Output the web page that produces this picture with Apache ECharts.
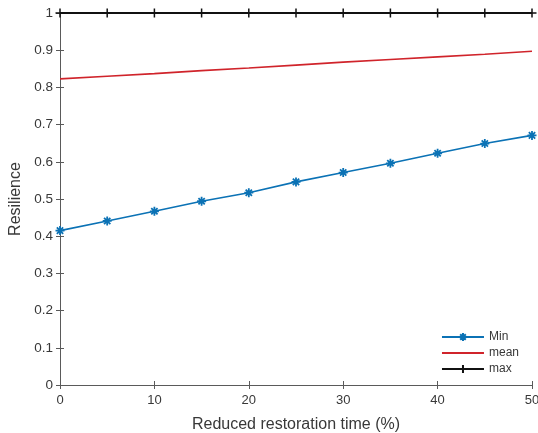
<!DOCTYPE html>
<html>
<head>
<meta charset="utf-8">
<script src="https://cdn.jsdelivr.net/npm/echarts@6/dist/echarts.min.js"></script>
<style>
  html, body { margin: 0; padding: 0; background: #fff; }
  #chart { width: 538px; height: 433px; }
</style>
</head>
<body>
<div id="chart"></div>
<script>
// Reduced restoration time (%) and the resulting resilience statistics
const reductionPct = [0, 5, 10, 15, 20, 25, 30, 35, 40, 45, 50];
const minResilience = [0.415, 0.441, 0.467, 0.494, 0.517, 0.546, 0.571, 0.596, 0.623, 0.649, 0.671];
const meanResilience = [0.823, 0.830, 0.837, 0.845, 0.852, 0.860, 0.868, 0.875, 0.882, 0.889, 0.897];
const maxResilience = [1, 1, 1, 1, 1, 1, 1, 1, 1, 1, 1];
const xTicks = [0, 10, 20, 30, 40, 50];
const yTicks = [0, 0.1, 0.2, 0.3, 0.4, 0.5, 0.6, 0.7, 0.8, 0.9, 1];

const pairs = (ys) => reductionPct.map((x, i) => [x, ys[i]]);

const FONT = '"Liberation Sans", Arial, Helvetica, sans-serif';
const AXIS = '#5a5a5a';
const TEXT = '#383838';

// asterisk (8 spokes) and plus markers, drawn as stroked paths
const ASTERISK = 'path://M0,-10L0,10M-10,0L10,0M-7,-7L7,7M-7,7L7,-7';
const PLUS = 'path://M0,-10L0,10M-10,0L10,0';

const chart = echarts.init(document.getElementById('chart'), null, { renderer: 'canvas' });

const axisCommon = {
  type: 'value',
  axisLine: { show: true, lineStyle: { color: AXIS, width: 1 } },
  axisTick: { show: true, inside: true, length: 4, lineStyle: { color: AXIS } },
  splitLine: { show: false },
};

chart.setOption({
  animation: false,
  backgroundColor: '#ffffff',
  textStyle: { fontFamily: FONT },
  grid: { left: 60, right: 6, top: 13, bottom: 48, containLabel: false, outerBoundsMode: 'none' },
  xAxis: [
    Object.assign({}, axisCommon, {
      min: 0, max: 50, interval: 10,
      name: 'Reduced restoration time (%)',
      nameLocation: 'middle', nameGap: 32,
      nameTextStyle: { fontSize: 16, color: TEXT, fontFamily: FONT },
      axisLabel: {
        color: TEXT, fontSize: 13, fontFamily: FONT, margin: 9,
        formatter: (v) => xTicks.includes(v) ? String(v) : ''
      },
    }),
    Object.assign({}, axisCommon, {
      position: 'top', min: 0, max: 50, interval: 10,
      axisLabel: { show: false },
    }),
  ],
  yAxis: [
    Object.assign({}, axisCommon, {
      min: 0, max: 1, interval: 0.1,
      name: 'Resilience',
      nameLocation: 'middle', nameGap: 32, nameRotate: 90,
      nameTextStyle: { fontSize: 16, color: TEXT, fontFamily: FONT },
      axisLabel: {
        color: TEXT, fontSize: 13.5, fontFamily: FONT, margin: 7,
        formatter: (v) => {
          const t = yTicks.find(k => Math.abs(k - v) < 1e-9);
          return t === undefined ? '' : String(t);
        }
      },
    }),
    Object.assign({}, axisCommon, {
      position: 'right', min: 0, max: 1, interval: 0.1,
      axisLabel: { show: false },
    }),
  ],
  legend: {
    orient: 'vertical',
    right: 14, top: 326,
    itemWidth: 42, itemHeight: 10, itemGap: 4,
    textStyle: { fontSize: 12, color: TEXT, fontFamily: FONT },
    data: ['Min', { name: 'mean', itemStyle: { opacity: 0 } }, 'max'],
  },
  series: [
    {
      name: 'Min', type: 'line',
      data: pairs(minResilience),
      symbol: ASTERISK, symbolSize: 9,
      lineStyle: { color: '#0b72b5', width: 1.6 },
      itemStyle: { color: '#0b72b5', borderColor: '#0b72b5', borderWidth: 1.8 },
      z: 3,
    },
    {
      name: 'mean', type: 'line',
      data: pairs(meanResilience),
      showSymbol: false,
      lineStyle: { color: '#d0242b', width: 1.6 },
      itemStyle: { color: '#d0242b' },
      z: 3,
    },
    {
      name: 'max', type: 'line',
      data: pairs(maxResilience),
      symbol: PLUS, symbolSize: 9,
      lineStyle: { color: '#111111', width: 2 },
      itemStyle: { color: '#111111', borderColor: '#111111', borderWidth: 1.5 },
      z: 4,
    },
  ],
});
</script>
</body>
</html>
